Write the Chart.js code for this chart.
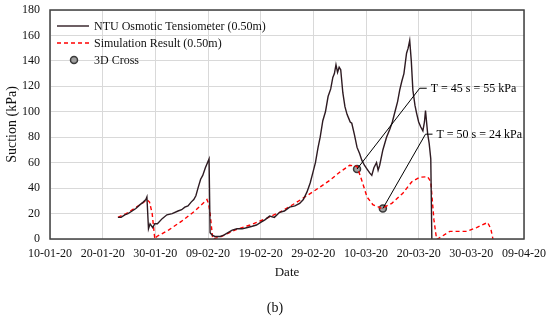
<!DOCTYPE html>
<html>
<head>
<meta charset="utf-8">
<script src="https://cdn.jsdelivr.net/npm/chart.js@4"></script>
<style>
  html, body { margin: 0; padding: 0; background: #fff; }
  #wrap { width: 550px; height: 321px; }
</style>
</head>
<body>
<div id="wrap"><canvas id="c" width="550" height="321"></canvas></div>
<script>
// days counted from 10-01-20
const tickDays = [0, 10, 20, 30, 40, 50, 60, 70, 80, 90]
const yTicks = [0, 20, 40, 60, 80, 100, 120, 140, 160, 180]

const ntuDays = [12.9, 13.5, 14.2, 14.8, 15.6, 16.3, 17.1, 17.7, 18.2, 18.4, 18.7, 19.0, 19.5, 19.9, 20.4,
  21.3, 22.2, 23.2, 24.3, 25.0, 25.6, 26.2, 26.8, 27.3, 27.7, 28.1, 28.6, 29.0, 29.5, 29.9, 30.2, 30.4,
  30.8, 31.3, 32.3, 33.0, 33.8, 34.6, 35.5, 36.5, 37.5, 38.4, 39.2, 40.0, 40.8, 41.7, 42.6, 43.6,
  44.5, 45.5, 46.5, 47.4, 48.1, 48.8, 49.4, 49.9, 50.4, 50.9, 51.3, 51.8, 52.3, 52.8, 53.3, 53.7,
  54.0, 54.3, 54.6, 54.9, 55.2, 55.6, 56.0, 56.4, 56.7, 57.0, 57.3, 57.8, 58.3, 58.8, 59.2, 59.7,
  60.2, 60.7, 61.1, 61.5, 62.0, 62.3, 62.6, 63.2, 63.9, 64.5, 65.0, 65.5, 66.0, 66.4, 66.8, 67.2,
  67.7, 68.0, 68.3, 68.6, 68.9, 69.3, 69.6, 70.0, 70.4, 70.8, 71.1, 71.3, 71.7, 72.0, 72.3, 72.5]
const ntuValues = [17, 17, 19, 20, 22, 24, 27, 29, 31, 33, 8, 12, 9, 12, 12,
  16, 19, 20, 22, 23, 25, 26, 29, 31, 34, 40, 47, 50, 56, 60, 63, 5,
  3, 2, 2, 3, 5, 7, 8, 8, 9, 10, 11, 13, 15, 18, 17, 21,
  22, 25, 26, 28, 31, 37, 44, 52, 60, 72, 80, 93, 100, 112, 118, 127,
  130, 137, 131, 135, 133, 115, 104, 98, 95, 92, 91, 82, 72, 67, 62, 58,
  55, 52, 50, 56, 60, 54, 58, 70, 80, 86, 92, 100, 108, 117, 124, 130,
  146, 150, 156, 140, 117, 105, 99, 92, 88, 85, 92, 101, 83, 75, 63, 0]

const simDays = [12.9, 14.5, 16.0, 17.5, 18.4, 18.9, 19.4, 19.9, 20.3, 22.5, 25.0, 27.5, 29.8, 30.1,
  30.4, 30.9, 32.6, 35.1, 38.0, 41.0, 43.6, 46.5, 49.9, 53.1, 55.0, 56.9, 58.3, 59.2, 60.2, 61.3,
  63.0, 64.9, 67.0, 68.7, 70.2, 71.7, 72.3, 72.9, 73.4, 73.6, 75.9, 79.1, 81.0, 83.1, 83.7, 84.1]
const simValues = [17, 20, 24, 28, 31, 29, 20, 0, 2, 7, 14, 22, 31, 28,
  20, 0, 2, 7, 11, 16, 21, 28, 37, 46, 52.5, 58, 57, 46, 33, 27,
  24, 28, 36, 45, 48.5, 49, 45, 15, 0, 0, 6, 6, 9, 13, 8, 0]

const crossDays = [58.3, 63.2]
const crossValues = [55, 24]
const crossLabels = ['T = 45 s = 55 kPa', 'T = 50 s = 24 kPa']
// elbow of each leader line, in data units
const labelDays = [70.2, 71.3]
const labelValues = [118.5, 82.4]

const serif = 'Liberation Serif, Times New Roman, serif'

function fmtDate(d) {
  const t = new Date(Date.UTC(2020, 0, 10) + d * 86400000)
  const p = n => String(n).padStart(2, '0')
  return p(t.getUTCDate()) + '-' + p(t.getUTCMonth() + 1) + '-' + String(t.getUTCFullYear()).slice(2)
}

function noPad(s) {
  s.paddingTop = 0
  s.paddingBottom = 0
  s.paddingLeft = 0
  s.paddingRight = 0
}

const extras = {
  id: 'extras',
  afterDatasetsDraw(chart) {
    const { ctx, chartArea: a, scales: { x, y } } = chart
    ctx.save()
    // frame
    ctx.strokeStyle = '#404040'
    ctx.lineWidth = 1.5
    ctx.strokeRect(a.left, a.top, a.right - a.left, a.bottom - a.top)

    // leader lines and labels
    ctx.strokeStyle = '#000'
    ctx.lineWidth = 1
    ctx.fillStyle = '#000'
    ctx.font = '12px ' + serif
    ctx.textBaseline = 'middle'
    crossDays.forEach((d, i) => {
      const px = x.getPixelForValue(d), py = y.getPixelForValue(crossValues[i])
      const ex = x.getPixelForValue(labelDays[i]), ey = y.getPixelForValue(labelValues[i])
      ctx.beginPath()
      ctx.moveTo(px, py)
      ctx.lineTo(ex, ey)
      ctx.lineTo(ex + 7, ey)
      ctx.stroke()
      ctx.fillText(crossLabels[i], ex + 11, ey + 1)
    })

    // legend
    const items = chart.data.datasets
    const lx = a.left + 7, ly = a.top + 16
    items.forEach((ds, i) => {
      const yy = ly + i * 17
      if (ds.showLine === false) {
        ctx.beginPath()
        ctx.arc(lx + 17, yy, 3.5, 0, Math.PI * 2)
        ctx.fillStyle = ds.pointBackgroundColor
        ctx.fill()
        ctx.lineWidth = 1.5
        ctx.strokeStyle = ds.pointBorderColor
        ctx.stroke()
      } else {
        ctx.beginPath()
        ctx.setLineDash(ds.borderDash || [])
        ctx.strokeStyle = ds.borderColor
        ctx.lineWidth = 1.4
        ctx.moveTo(lx, yy)
        ctx.lineTo(lx + 32, yy)
        ctx.stroke()
        ctx.setLineDash([])
      }
      ctx.fillStyle = '#111'
      ctx.font = '12px ' + serif
      ctx.fillText(ds.label, lx + 37, yy + 1)
    })

    // caption
    ctx.font = '14px ' + serif
    ctx.textAlign = 'center'
    ctx.fillText('(b)', 275, 308)
    ctx.restore()
  }
}

new Chart(document.getElementById('c').getContext('2d'), {
  type: 'line',
  data: {
    datasets: [
      {
        label: 'NTU Osmotic Tensiometer (0.50m)',
        data: ntuDays.map((d, i) => ({ x: d, y: ntuValues[i] })),
        borderColor: '#2e1b22',
        borderWidth: 1.4,
        pointRadius: 0,
        tension: 0,
      },
      {
        label: 'Simulation Result (0.50m)',
        data: simDays.map((d, i) => ({ x: d, y: simValues[i] })),
        borderColor: '#ff0000',
        borderWidth: 1.4,
        borderDash: [4, 3],
        pointRadius: 0,
        tension: 0,
      },
      {
        label: '3D Cross',
        data: crossDays.map((d, i) => ({ x: d, y: crossValues[i] })),
        showLine: false,
        pointRadius: 3.5,
        pointBackgroundColor: '#a0a0a0',
        pointBorderColor: '#3a3a3a',
        pointBorderWidth: 1.5,
      },
    ],
  },
  options: {
    responsive: false,
    animation: false,
    layout: { padding: { top: 10, right: 26, bottom: 37, left: 0 } },
    plugins: { legend: { display: false }, tooltip: { enabled: false } },
    scales: {
      x: {
        type: 'linear',
        min: 0,
        max: 90,
        afterBuildTicks: s => { s.ticks = tickDays.map(v => ({ value: v })) },
        afterFit: s => { s.height = 45; noPad(s) },
        ticks: { callback: v => fmtDate(v), maxRotation: 0, autoSkip: false, padding: 8, color: '#111', font: { family: serif, size: 12 } },
        grid: { color: '#d9d9d9', lineWidth: 1, drawTicks: false },
        border: { display: false },
        title: { display: true, text: 'Date', color: '#111', font: { family: serif, size: 13 }, padding: { top: 2, bottom: 4 } },
      },
      y: {
        min: 0,
        max: 180,
        afterBuildTicks: s => { s.ticks = yTicks.map(v => ({ value: v })) },
        afterFit: s => { s.width = 50; noPad(s) },
        ticks: { padding: 10, color: '#111', font: { family: serif, size: 12 } },
        grid: { color: '#d9d9d9', lineWidth: 1, drawTicks: false },
        border: { display: false },
        title: { display: true, text: 'Suction (kPa)', color: '#111', font: { family: serif, size: 14 }, padding: { top: 4, bottom: 2 } },
      },
    },
  },
  plugins: [extras],
})
</script>
</body>
</html>
